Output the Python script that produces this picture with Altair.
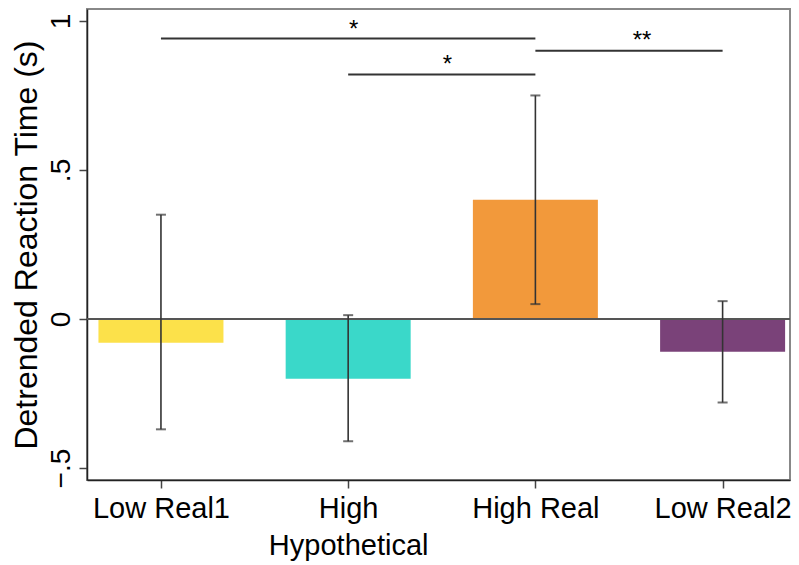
import altair as alt
import pandas as pd

categories = ["Low Real1", "High Hypothetical", "High Real", "Low Real2"]
positions = [1, 2, 3, 4]
means = [-0.08, -0.20, 0.40, -0.11]
err_low = [-0.37, -0.41, 0.05, -0.28]
err_high = [0.35, 0.013, 0.75, 0.06]
colors = ["#FCE14A", "#3AD8C9", "#F2993B", "#7A4279"]

sig_from = [1, 2, 3]
sig_to = [3, 3, 4]
sig_y = [0.941, 0.82, 0.90]
star_x = [2.03, 2.53, 3.57]
star_y = [0.99, 0.872, 0.953]
star_text = ["*", "*", "**"]

bars = pd.DataFrame({"cat": categories, "pos": positions, "mean": means,
                     "lo": err_low, "hi": err_high, "color": colors})
sig = pd.DataFrame({"x1": sig_from, "x2": sig_to, "y": sig_y})
stars = pd.DataFrame({"x": star_x, "y": star_y, "t": star_text})

label_expr = " : ".join(
    [f"datum.value == {p} ? {repr(c.split(' ') if c == 'High Hypothetical' else c)}"
     for p, c in zip(positions, categories)]) + " : ''"

xscale = alt.Scale(domain=[0.605, 4.36], nice=False, zero=False, padding=0)
yscale = alt.Scale(domain=[-0.54, 1.04], nice=False, zero=False, padding=0)

xaxis = alt.Axis(values=positions, labelExpr=label_expr, title=None, grid=False,
                 labelFontSize=29, labelPadding=6, labelLineHeight=37,
                 tickSize=8, labelFlush=False, labelOverlap=False)
yaxis = alt.Axis(values=[-0.5, 0, 0.5, 1],
                 labelExpr="datum.value == 0 ? '0' : replace(format(datum.value, '.1~f'), '0.', '.')",
                 title="Detrended Reaction Time (s)", grid=False, labelAngle=-90,
                 labelAlign="center", labelBaseline="alphabetic", labelPadding=10,
                 labelFontSize=28, tickSize=8, titleFontSize=32, titleFontWeight="normal",
                 titleBaseline="alphabetic", titleX=-51, titleAngle=-90)

base = alt.Chart(bars)

bar_layer = base.mark_bar(size=125).encode(
    x=alt.X("pos:Q", scale=xscale, axis=xaxis),
    y=alt.Y("mean:Q", scale=yscale, axis=yaxis),
    y2=alt.datum(0),
    color=alt.Color("color:N", scale=None),
)

zero_rule = alt.Chart(bars).mark_rule(color="#555", strokeWidth=2).encode(y=alt.datum(0))

err = base.mark_rule(color="#333", strokeWidth=1.6).encode(x="pos:Q", y="lo:Q", y2="hi:Q")
cap_lo = base.mark_tick(orient="horizontal", size=10, thickness=2, color="#333").encode(x="pos:Q", y="lo:Q")
cap_hi = base.mark_tick(orient="horizontal", size=10, thickness=2, color="#333").encode(x="pos:Q", y="hi:Q")

sig_layer = alt.Chart(sig).mark_rule(color="#333", strokeWidth=2).encode(
    x="x1:Q", x2="x2:Q", y="y:Q")
star_layer = alt.Chart(stars).mark_text(fontSize=24, baseline="alphabetic", dy=13,
                                        color="black", font="Liberation Sans").encode(
    x="x:Q", y="y:Q", text="t:N")

chart = alt.layer(bar_layer, zero_rule, err, cap_lo, cap_hi, sig_layer, star_layer).properties(
    width=703, height=471, autosize="none",
    padding={"left": 79, "top": 1, "right": 1, "bottom": 85},
).configure_view(stroke="#888", strokeWidth=2).configure_axis(
    domainColor="#222", domainWidth=1.5, tickColor="#444", tickWidth=1.5,
    labelFont="Liberation Sans", titleFont="Liberation Sans",
    labelColor="black", titleColor="black",
)

chart.save("out.html", embed_options={"renderer": "svg", "actions": False})
